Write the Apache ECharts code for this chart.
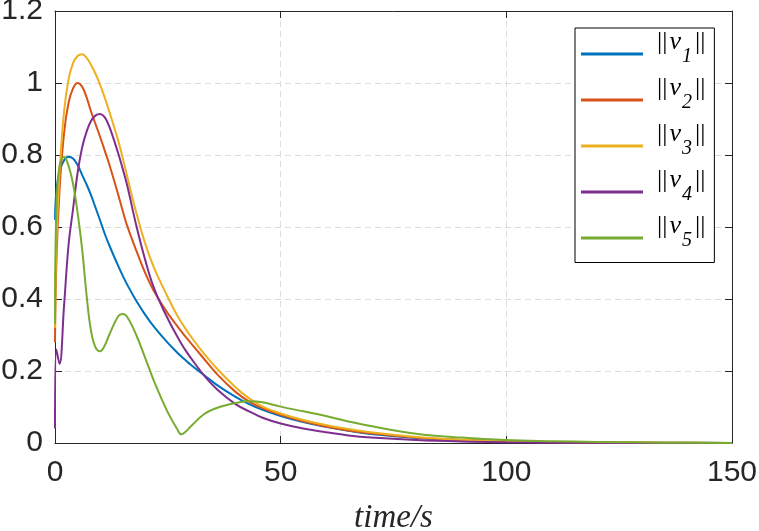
<!DOCTYPE html>
<html lang="en">
<head>
    <meta charset="UTF-8">
    <title>||v|| vs time</title>
    <script src="https://cdn.jsdelivr.net/npm/echarts@6/dist/echarts.min.js"></script>
    <style>
        html, body { margin: 0; padding: 0; background: #fff; }
        #main { width: 759px; height: 531px; }
    </style>
</head>
<body>
    <div id="main"></div>
    <script>
    // time samples (s), shared by all five curves
    var time = [0, 0.3, 1, 2, 3, 4, 5, 6, 7, 8, 9, 10, 11, 12, 14, 15, 16, 18, 20, 22, 25, 27, 28, 29, 30, 33, 36, 40, 43, 46, 50, 55, 60, 65, 70, 80, 90, 100, 110, 120, 135, 150];

    // values
    var v1 = [0.62, 0.70, 0.755, 0.785, 0.795, 0.79, 0.772, 0.745, 0.718, 0.688, 0.653, 0.618, 0.582, 0.55, 0.492, 0.465, 0.44, 0.395, 0.356, 0.322, 0.278, 0.252, 0.24, 0.229, 0.218, 0.189, 0.16, 0.128, 0.108, 0.092, 0.075, 0.058, 0.045, 0.034, 0.025, 0.014, 0.008, 0.0045, 0.0025, 0.0015, 0.0007, 0.0003];
    var v2 = [0.28, 0.50, 0.70, 0.86, 0.945, 0.985, 1.0, 0.99, 0.96, 0.92, 0.885, 0.85, 0.813, 0.775, 0.69, 0.645, 0.603, 0.535, 0.472, 0.42, 0.36, 0.326, 0.31, 0.294, 0.279, 0.234, 0.19, 0.142, 0.115, 0.096, 0.078, 0.06, 0.046, 0.035, 0.027, 0.015, 0.008, 0.004, 0.002, 0.0015, 0.001, 0];
    var v3 = [0.32, 0.55, 0.75, 0.92, 1.01, 1.055, 1.075, 1.08, 1.07, 1.05, 1.025, 0.995, 0.96, 0.922, 0.84, 0.792, 0.74, 0.64, 0.553, 0.485, 0.405, 0.356, 0.335, 0.316, 0.298, 0.248, 0.205, 0.155, 0.124, 0.101, 0.082, 0.064, 0.05, 0.039, 0.03, 0.017, 0.009, 0.005, 0.003, 0.002, 0.001, 0];
    var v4 = [0.04, 0.26, 0.22, 0.38, 0.55, 0.65, 0.75, 0.82, 0.865, 0.895, 0.91, 0.914, 0.905, 0.88, 0.805, 0.762, 0.715, 0.605, 0.508, 0.428, 0.345, 0.298, 0.276, 0.256, 0.238, 0.188, 0.148, 0.108, 0.088, 0.07, 0.054, 0.04, 0.03, 0.021, 0.015, 0.008, 0.004, 0.002, 0.001, 0.0005, 0, 0];
    var v5 = [0.33, 0.65, 0.77, 0.795, 0.77, 0.72, 0.64, 0.54, 0.41, 0.31, 0.265, 0.255, 0.27, 0.30, 0.352, 0.358, 0.35, 0.30, 0.236, 0.17, 0.085, 0.04, 0.024, 0.032, 0.045, 0.08, 0.098, 0.111, 0.116, 0.113, 0.101, 0.088, 0.075, 0.06, 0.047, 0.026, 0.015, 0.008, 0.005, 0.003, 0.001, 0];

    var names = ['v1', 'v2', 'v3', 'v4', 'v5'];
    var colors = ['#0072BD', '#D95319', '#EDB120', '#7E2F8E', '#77AC30'];
    var values = [v1, v2, v3, v4, v5];

    var axisColor = '#262626';
    var gridLine = { show: true, lineStyle: { color: '#dcdcdc', type: [6, 4], width: 1 } };

    var myChart = echarts.init(document.getElementById('main'));

    var series = names.map(function (n, k) {
        return {
            name: n,
            type: 'line',
            xAxisIndex: 0,
            yAxisIndex: 0,
            smooth: 0.4,
            symbol: 'none',
            lineStyle: { color: colors[k], width: 2 },
            itemStyle: { color: colors[k] },
            data: time.map(function (t, i) { return [t, values[k][i]]; })
        };
    });

    var option = {
        animation: false,
        backgroundColor: '#fff',
        color: colors,
        grid: { left: 55, right: 27, top: 11, bottom: 88, outerBoundsMode: 'none' },
        legend: {
            orient: 'vertical',
            left: 575,
            top: 28,
            padding: [1, 9, 12, 6],
            itemGap: 8.5,
            itemWidth: 62,
            itemHeight: 3,
            icon: 'rect',
            backgroundColor: '#fff',
            borderColor: '#000',
            borderWidth: 1,
            borderRadius: 0,
            data: names,
            // ||v_k|| : main text lifted above the line sample, subscript pushed down
            formatter: function (n) {
                return '{n|||}{v|v}{s|' + n.slice(1) + '}{n|||}';
            },
            textStyle: {
                padding: [0, 0, 12.5, 9],
                rich: {
                    n: { fontFamily: 'Liberation Serif', fontSize: 26, color: '#000', lineHeight: 26, padding: [0, 0, 11.5, 0] },
                    v: { fontFamily: 'Liberation Serif', fontStyle: 'italic', fontSize: 26, color: '#000', lineHeight: 26, padding: [0, 1, 11.5, 2] },
                    s: { fontFamily: 'Liberation Serif', fontStyle: 'italic', fontSize: 20, color: '#000', padding: [17.5, 3, 0, 0] }
                }
            }
        },
        xAxis: [{
            type: 'value',
            min: 0,
            max: 150,
            interval: 50,
            name: 'time/s',
            nameLocation: 'middle',
            nameGap: 59,
            nameTextStyle: { fontFamily: 'Liberation Serif', fontStyle: 'italic', fontSize: 33, color: axisColor },
            axisLine: { show: true, lineStyle: { color: axisColor, width: 1 } },
            axisTick: { show: true, inside: true, length: 7, lineStyle: { color: axisColor } },
            axisLabel: { fontFamily: 'Liberation Sans', fontSize: 30, color: axisColor, margin: 15 },
            splitLine: gridLine
        }, {
            type: 'value',
            position: 'top',
            min: 0,
            max: 150,
            interval: 50,
            axisLine: { show: true, onZero: false, lineStyle: { color: axisColor, width: 1 } },
            axisTick: { show: true, inside: true, length: 7, lineStyle: { color: axisColor } },
            axisLabel: { show: false },
            splitLine: { show: false }
        }],
        yAxis: [{
            type: 'value',
            min: 0,
            max: 1.2,
            interval: 0.2,
            axisLine: { show: true, lineStyle: { color: axisColor, width: 1 } },
            axisTick: { show: true, inside: true, length: 7, lineStyle: { color: axisColor } },
            axisLabel: { fontFamily: 'Liberation Sans', fontSize: 30, color: axisColor, margin: 12 },
            splitLine: gridLine
        }, {
            type: 'value',
            position: 'right',
            min: 0,
            max: 1.2,
            interval: 0.2,
            axisLine: { show: true, onZero: false, lineStyle: { color: axisColor, width: 1 } },
            axisTick: { show: true, inside: true, length: 7, lineStyle: { color: axisColor } },
            axisLabel: { show: false },
            splitLine: { show: false }
        }],
        series: series
    };

    myChart.setOption(option);
    </script>
</body>
</html>
